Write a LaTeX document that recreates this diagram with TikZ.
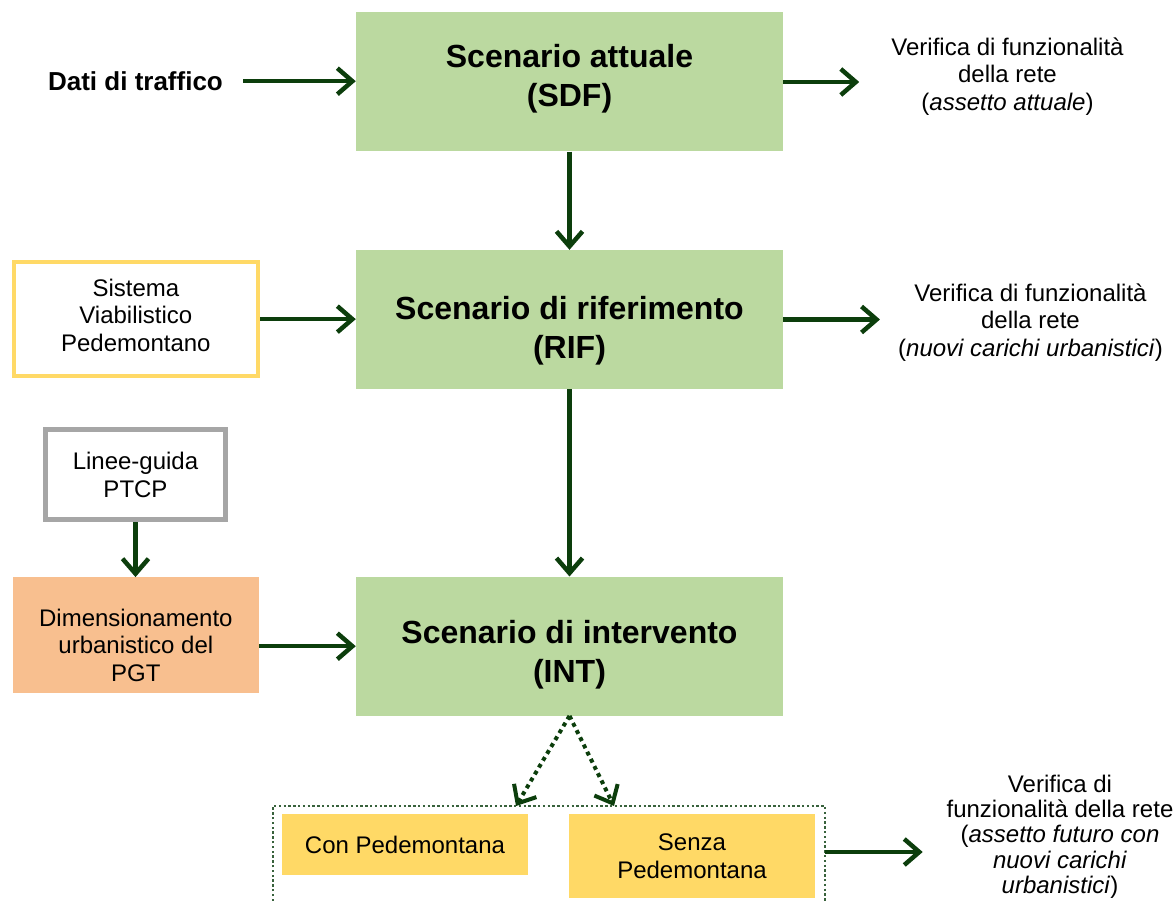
\documentclass[tikz,border=0pt]{standalone}
\usepackage{fontspec}
\setmainfont{Liberation Sans}
\usetikzlibrary{arrows.meta}
\definecolor{scgreen}{RGB}{187,217,160}
\definecolor{arrgreen}{RGB}{12,62,12}
\definecolor{dotgreen}{RGB}{56,98,60}
\definecolor{boxyellow}{RGB}{255,217,102}
\definecolor{boxorange}{RGB}{248,191,143}
\definecolor{boxgrey}{RGB}{166,166,166}
\begin{document}
\begin{tikzpicture}[x=1pt,y=-1pt,
  scbox/.style={fill=scgreen, minimum width=427, minimum height=139, inner sep=0},
  sctext/.style={font=\fontsize{32}{39}\selectfont\bfseries, align=center, inner sep=0},
  txt/.style={font=\fontsize{24}{27.5}\selectfont, align=center, inner sep=0},
  flow/.style={draw=arrgreen, line width=4.5, -{Straight Barb[length=15pt,width=26pt]}},
  flowdot/.style={draw=arrgreen, line width=4, dash pattern=on 4pt off 4pt, -{Straight Barb[length=15pt,width=26pt]}},
  groupline/.style={draw=dotgreen, line width=2.4, dash pattern=on 2.4pt off 2.4pt}
]
\path[use as bounding box] (0,0) rectangle (1176,901);

% main scenario boxes
\node[scbox, label={[sctext,yshift=3]center:Scenario attuale\\(SDF)}] (sdf) at (569.5,82) {};
\node[scbox, label={[sctext,yshift=-11]center:Scenario di riferimento\\(RIF)}] (rif) at (569.5,319.5) {};
\node[scbox, label={[sctext,yshift=-9]center:Scenario di intervento\\(INT)}] (int) at (569.5,646.2) {};

% left inputs
\node[font=\fontsize{26}{30}\selectfont\bfseries, inner xsep=20, inner ysep=0] (dati) at (135.5,81.2) {Dati di traffico};
\node[draw=boxyellow, line width=4.5, fill=white, minimum width=243.8, minimum height=113.8, inner sep=0,
      label={[txt,yshift=4]center:Sistema\\Viabilistico\\Pedemontano}] (sis) at (135.85,319.15) {};
\node[txt, draw=boxgrey, line width=5, minimum width=179.4, minimum height=90] (lin) at (135.5,474.8) {Linee-guida\\PTCP};
\node[fill=boxorange, minimum width=246.3, minimum height=115.4, inner sep=0,
      label={[txt,yshift=-10]center:Dimensionamento\\urbanistico del\\PGT}] (dim) at (135.85,635) {};

% right outputs
\node[txt, inner xsep=32] (v1) at (1007.5,76.5) {Verifica di funzionalità\\della rete\\(\textit{assetto attuale})};
\node[txt, inner xsep=18] (v2) at (1030.5,322.5) {Verifica di funzionalità\\della rete\\(\textit{nuovi carichi urbanistici})};
\node[txt, font=\fontsize{24}{25.4}\selectfont, inner xsep=23.7] (v3) at (1060,836.7) {Verifica di\\funzionalità della rete\\(\textit{assetto futuro con}\\\textit{nuovi carichi}\\\textit{urbanistici})};

% group of alternatives
\draw[groupline] (273,901) -- (273,806) -- (825,806) -- (825,901);
\coordinate (gl) at (516,806);
\coordinate (gr) at (614,806);
\node[txt, fill=boxyellow, minimum width=246, minimum height=61] (con) at (405,844.5) {Con Pedemontana};
\node[txt, fill=boxyellow, minimum width=246, minimum height=84] (senza) at (692,856) {Senza\\Pedemontana};

% connectors
\draw[flow] (dati.east) -- (dati.east -| sdf.west);
\draw[flow] (sdf.east) -- (sdf.east -| v1.west);
\draw[flow] (sdf.south) -- (rif.north);
\draw[flow] (sis.east) -- (sis.east -| rif.west);
\draw[flow] (rif.east) -- (rif.east -| v2.west);
\draw[flow] (rif.south) -- (int.north);
\draw[flow] (lin.south) -- (lin.south |- dim.north);
\draw[flow] (int.west -| dim.east) -- (int.west);
\draw[flowdot] (int.south) -- (gl);
\draw[flowdot] (int.south) -- (gr);
\draw[flow, shorten <=10] ([yshift=4]senza.east) -- ([yshift=4]senza.east -| v3.west);
\end{tikzpicture}
\end{document}
